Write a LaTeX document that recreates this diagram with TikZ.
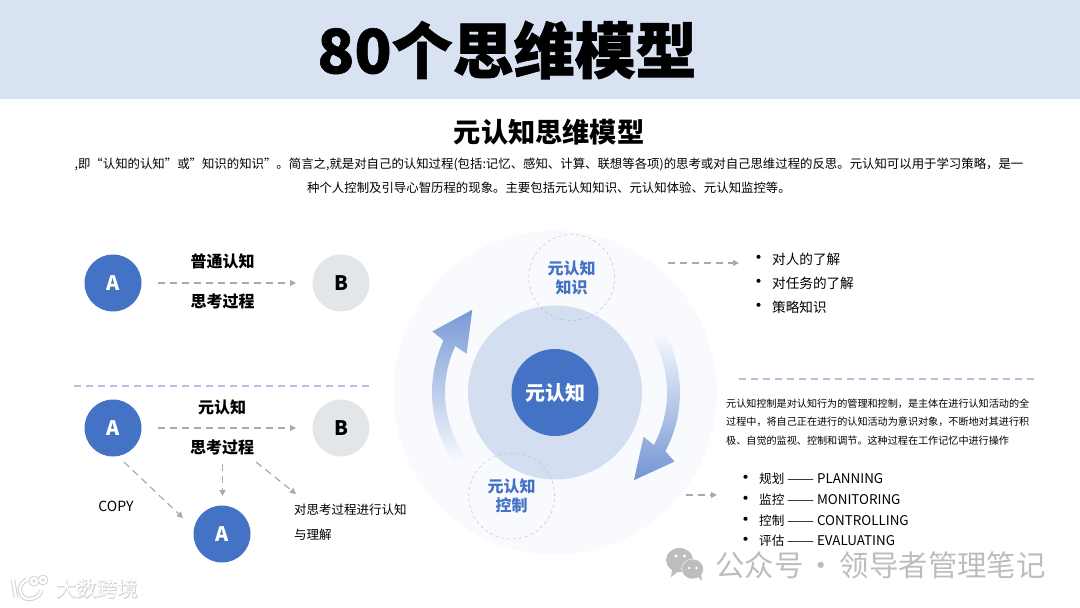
\documentclass[tikz,border=0pt]{standalone}
\usepackage{fontspec}
\usepackage{xcolor}
\usepackage{tikz}
\usetikzlibrary{arrows.meta,positioning,calc}
\setmainfont{Noto Sans CJK SC}
\definecolor{bandblue}{HTML}{D9E2F3}
\definecolor{mainblue}{HTML}{4472C4}
\definecolor{midblue}{HTML}{D3DEF0}
\definecolor{paleblue}{HTML}{F8FAFE}
\definecolor{softgray}{HTML}{E3E6E8}
\definecolor{linegray}{HTML}{A5ABB5}
\definecolor{ruleblue}{HTML}{B4C3E0}
\definecolor{markgray}{HTML}{BDBDBD}
\definecolor{ringgray}{HTML}{B3BBCB}
\newcommand{\Stage}[2]{#1 \resizebox{27pt}{\height}{——} {\fontsize{13.4}{13.4}\selectfont #2}}
\begin{document}
\begin{tikzpicture}[x=1pt,y=-1pt,
  ball/.style={circle, fill=mainblue, minimum size=57pt, inner sep=0pt, text=white, font=\fontsize{20}{20}\selectfont\bfseries},
  greyball/.style={ball, fill=softgray, text=black},
  ring/.style={circle, draw=ringgray, dashed, thin, minimum size=86pt, inner sep=0pt, text=mainblue, align=center, font=\fontsize{16}{19}\selectfont\bfseries},
  flow/.style={linegray, line width=1.2pt, dash pattern=on 7pt off 5pt, -{Triangle[length=6pt,width=6pt]}},
  divider/.style={ruleblue, line width=1.2pt, dash pattern=on 7pt off 5pt},
  head/.style={font=\fontsize{16}{16}\selectfont\bfseries},
  lab/.style={font=\fontsize{12.5}{12.5}\selectfont},
  para/.style={font=\fontsize{12.4}{24}\selectfont, align=center},
  note/.style={font=\fontsize{10.1}{18.5}\selectfont, align=left, anchor=west, inner sep=0pt},
  item/.style={font=\fontsize{13.6}{13.6}\selectfont, anchor=west, inner sep=0pt, label={[font=\fontsize{19}{19}\selectfont, inner sep=0pt, xshift=-3pt, yshift=-1pt]left:•}},
  tightitem/.style={item, font=\fontsize{12.6}{12.6}\selectfont},
  wmark/.style={text=markgray, font=\fontsize{29.4}{29.4}\selectfont},
  logoline/.style={draw=markgray!70, double=white, line width=1pt, double distance=2.4pt}
]
\useasboundingbox (0,0) rectangle (1080,608);
% title band
\fill[bandblue] (0,0) rectangle (1080,99);
\node[font=\fontsize{61}{61}\selectfont\bfseries\addfontfeature{FakeBold=1}] (title) at (507,50) {80个思维模型};
\node[font=\fontsize{27.2}{27.2}\selectfont\bfseries] (subtitle) at (549,132) {元认知思维模型};
\node[para, text width=980pt] (intro) at (549,176) {,即“认知的认知”或”知识的知识”。简言之,就是对自己的认知过程(包括:记忆、感知、计算、联想等各项)的思考或对自己思维过程的反思。元认知可以用于学习策略，是一\\种个人控制及引导心智历程的现象。主要包括元认知知识、元认知体验、元认知监控等。};

% left, upper row
\node[ball] (a1) at (113,283) {A};
\node[greyball] (b1) at (341,283) {B};
\node[head] (n1) at (222.5,261) {普通认知};
\node[head] (t1) at (222.5,301) {思考过程};
\coordinate (f1s) at (158,283);
\coordinate (f1e) at (296,283);
\draw[flow] (f1s) -- (f1e);

\coordinate (d1s) at (74,386);
\coordinate (d1e) at (372,386);
\draw[divider] (d1s) -- (d1e);

% left, lower row
\node[ball] (a2) at (113,428) {A};
\node[greyball] (b2) at (341,428) {B};
\node[ball] (a3) at (222,534) {A};
\node[head] (n2) at (222,407) {元认知};
\node[head] (t2) at (222,447) {思考过程};
\coordinate (f2s) at (158,428);
\coordinate (f2e) at (296,428);
\draw[flow] (f2s) -- (f2e);
\coordinate (f3s) at (124,462);
\coordinate (f3e) at (183,518);
\draw[flow] (f3s) -- (f3e);
\coordinate (f4s) at (222.5,464);
\coordinate (f4e) at (222.5,496);
\draw[flow] (f4s) -- (f4e);
\coordinate (f5s) at (256,462);
\coordinate (f5e) at (296,494);
\draw[flow] (f5s) -- (f5e);
\node[font=\fontsize{14}{14}\selectfont] (copy) at (116,506) {COPY};
\node[lab, anchor=west, inner sep=0pt] (cog1) at (294,510) {对思考过程进行认知};
\node[lab, anchor=west, inner sep=0pt] (cog2) at (294,535) {与理解};

% centre rings
\fill[paleblue] (555,392.5) circle (162);
\fill[midblue] (555,392.5) circle (87);
\node[ball, minimum size=87pt] (core) at (555,392.5) {元认知};
\node[ring] (know) at (571.7,277.5) {元认知\\知识};
\node[ring] (ctrl) at (511.7,496) {元认知\\控制};

% arrows round the centre, y points down so angles run clockwise
\shade[top color=paleblue, bottom color=mainblue!75!white]
  ($(core)+(-29:125)$) arc[start angle=-29, end angle=28, radius=125]
  -- ($(core)+(30:138)$) -- ($(core)+(48:118)$) -- ($(core)+(26.5:99)$)
  -- ($(core)+(28:112)$) arc[start angle=28, end angle=-29, radius=112] -- cycle;
\shade[bottom color=paleblue, top color=mainblue!72!white]
  ($(core)+(-215:123)$) arc[start angle=-215, end angle=-155, radius=123]
  -- ($(core)+(-153.5:137)$) -- ($(core)+(-135:117)$) -- ($(core)+(-156.4:96.5)$)
  -- ($(core)+(-155:110)$) arc[start angle=-155, end angle=-215, radius=110] -- cycle;

% right, upper list
\coordinate (f6s) at (668,263);
\coordinate (f6e) at (739,263);
\draw[flow] (f6s) -- (f6e);
\node[item] (k1) at (772,259) {对人的了解};
\node[item] (k2) at (772,283) {对任务的了解};
\node[item] (k3) at (772,307) {策略知识};

\coordinate (d2s) at (739,379);
\coordinate (d2e) at (1037,379);
\draw[divider] (d2s) -- (d2e);

% right, lower list
\node[note] (ctrlnote) at (726,422) {元认知控制是对认知行为的管理和控制，是主体在进行认知活动的全\\过程中，将自己正在进行的认知活动为意识对象，不断地对其进行积\\极、自觉的监视、控制和调节。这种过程在工作记忆中进行操作};
\coordinate (f7s) at (686,495);
\coordinate (f7e) at (717,495);
\draw[flow] (f7s) -- (f7e);
\node[tightitem] (c1) at (759,479) {\Stage{规划}{PLANNING}};
\node[tightitem] (c2) at (759,500) {\Stage{监控}{MONITORING}};
\node[tightitem] (c3) at (759,521) {\Stage{控制}{CONTROLLING}};
\node[tightitem] (c4) at (759,541) {\Stage{评估}{EVALUATING}};

% watermarks
\fill[markgray] (679.5,560) ellipse (13.5 and 12);
\fill[markgray] (672,569) -- (671,577) -- (679,571) -- cycle;
\fill[markgray, draw=white, thin] (692.5,569) ellipse (11 and 10);
\fill[markgray] (697,576) -- (702,581) -- (701,572) -- cycle;
\fill[white] (676,556) circle (1.7) (684.5,556) circle (1.7) (689,568) circle (1.4) (696.5,568) circle (1.4);
\node[wmark, anchor=west, inner sep=0pt] (wechat) at (715,565) {公众号\hspace{3.5pt}·\hspace{3.5pt}领导者管理笔记};

\draw[logoline] (13,580) -- (16,598);
\draw[logoline] (27,580) .. controls (17,583) and (18,598) .. (28,599) .. controls (36,599) and (41,595) .. (41,590);
\draw[logoline] (34,581) circle (3) (43,580) circle (3);
\node[font=\fontsize{20.5}{20.5}\selectfont\addfontfeature{FakeBold=3}, text=markgray!70, anchor=west, inner sep=0pt] (haze) at (56,589) {大数跨境};
\node[font=\fontsize{20.5}{20.5}\selectfont, text=white, anchor=west, inner sep=0pt] (brand) at (56,589) {大数跨境};
\end{tikzpicture}
\end{document}
